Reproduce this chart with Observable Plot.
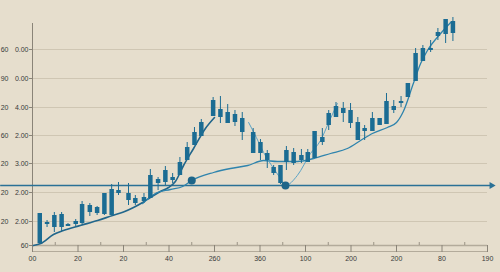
<!DOCTYPE html>
<html><head><meta charset="utf-8">
<script src="https://cdn.jsdelivr.net/npm/d3@7"></script>
<script src="https://cdn.jsdelivr.net/npm/@observablehq/plot@0.6"></script>
<style>
html,body{margin:0;padding:0;background:#e6decd;}
#chart svg{display:block;}
</style></head>
<body><div id="chart"></div>
<script>
// candle positions (x) and OHLC values
const candleX = [1.6,3.2,4.8,6.4,7.8,9.5,10.9,12.6,14.2,15.8,17.4,18.9,21.1,22.6,24.5,25.9,27.6,29.2,30.8,32.4,34.0,35.6,37.1,39.7,41.3,42.9,44.5,46.1,48.5,50.1,51.6,53.0,54.5,55.8,57.4,59.1,60.5,62.0,63.7,65.1,66.7,68.3,69.9,71.5,73.0,74.7,76.3,77.8,79.4,81.0,82.5,84.2,85.8,87.5,89.1,90.8,92.4];
const open  = [2,21,18,18,19,21,22,33,32,31,30,52,45,42,44,47,62,63,65,70,85,100,109,129,128,122,123,113,92,92,85,72,62,83,82,85,83,87,103,120,128,132,122,105,114,114,120,121,135,142,148,164,184,195,209,211,212];
const close = [32,23,30,31,21,24,41,40,38,52,56,55,52,47,48,70,66,75,68,83,98,113,123,145,136,133,131,127,113,103,92,78,80,95,93,90,93,114,108,132,139,137,135,123,117,127,127,144,139,144,162,192,197,197,213,226,224];
const low   = [2,18,13,14,19,19,21,29,30,30,30,50,40,40,42,47,55,60,62,70,85,100,109,129,122,122,119,105,92,85,77,70,61,75,80,82,83,87,100,115,128,123,117,105,105,114,120,121,132,138,148,164,184,193,205,202,204];
const high  = [32,25,33,33,22,26,44,42,39,52,61,63,62,50,52,76,68,79,72,88,103,118,126,148,149,141,135,133,117,106,95,80,80,99,97,96,96,114,117,135,143,143,142,128,120,133,127,152,145,149,162,197,200,205,217,226,228];

// lines
const lineAX = [0.2,1.8,4.6,6.8,10.5,14.3,17.6,20.0,22.2,24.2,25.9,28.1,29.9,31.4,33.2,35.4,38.0,40.0];
const lineAY = [0,2,11,15,20,25,30,33.5,38,43,48,54,58,64,80,97,117,128];
const lineCX = [24.2,27.0,30.3,33.0,35.0,39.8,43.5,47.3,50.8,53.8,58.2,61.8,65.5,69.2,72.1,74.7,78.0,80.0,81.5,83.7,85.3,86.8,89.7,91.9];
const lineCY = [42,52,56,59,65,73,77,80,85,84,84,87,92,97,105,112,118,123,134,162,182,195,212,223];
const lineBX = [47.5,49.2,50.8,53.0,54.5,55.6,58.2,61.1,63.3,65.1,67.0];
const lineBY = [123,108,93,77,67,60,70,92,105,123,142];

const markerX = [35.0,55.6];
const markerY = [65,60];

const baselineValue = 60;
const baselineStart = -7.0;
const baselineEnd = 100.9;

// axes
const xTicks = [0,10,20,30,40,50,60,70,80,90,100];
const xLabels = ["00","20","20","40","260","360","100","200","200","80","190"];
const xMinor = [5,15,25,35,45,55,65,75,85,95];
const yTicks = [0,24,53,82,110,138,167,196];
const yLabels = ["60","2.00","2.00","3.00","2.00","4.00","0.00","0.00"];
const yTicks2 = [24,53,82,110,138,167,196];
const yLabels2 = ["20","20","20","60","20","90","60"];

const candles = candleX.map((x,i)=>({x, open:open[i], close:close[i], low:low[i], high:high[i]}));
const A = lineAX.map((x,i)=>({x,y:lineAY[i]}));
const B = lineBX.map((x,i)=>({x,y:lineBY[i]}));
const C = lineCX.map((x,i)=>({x,y:lineCY[i]}));
const M = markerX.map((x,i)=>({x,y:markerY[i]}));
const yMap = new Map(yTicks.map((t,i)=>[t,yLabels[i]]));
const yMap2 = new Map(yTicks2.map((t,i)=>[t,yLabels2[i]]));
const xMap = new Map(xTicks.map((t,i)=>[t,xLabels[i]]));

const blue = "#1b6c93";
const chart = Plot.plot({
  width: 500, height: 272,
  marginLeft: 32, marginRight: 13, marginTop: 23, marginBottom: 27,
  style: {background: "#e6decd", fontFamily: "Liberation Sans, Arial, sans-serif", color: "#3a3a3a"},
  x: {domain: [0,100], label: null},
  y: {domain: [0,222], label: null},
  marks: [
    Plot.ruleY(yTicks.slice(1), {x1: 0, x2: 100, stroke: "#cfc6b3", strokeWidth: 1}),
    Plot.ruleY([0], {x1: 0, x2: 100, stroke: "#b3ab9b", strokeWidth: 1.5}),
    Plot.ruleY([-6], {x1: 0, x2: 100, stroke: "#b3ab9b", strokeWidth: 1}),
    Plot.ruleX(xMinor, {x: d=>d, y1: 0, y2: 3, stroke: "#9a9385"}),
    Plot.ruleX([0], {stroke: "#8a8478", strokeWidth: 1}),
    Plot.axisX({ticks: xTicks, tickFormat: d=>xMap.get(d), tickSize: 7, tickPadding: 4, fontSize: 7, stroke: "#8a8478", label: null}),
    Plot.axisY({ticks: yTicks, tickFormat: d=>yMap.get(d), tickSize: 3, tickPadding: 1, fontSize: 7, stroke: "#8a8478", label: null}),
    Plot.text(yTicks2, {y: d=>d, text: d=>yMap2.get(d), frameAnchor: "left", textAnchor: "end", dx: -24, fontSize: 7, fill: "#3a3a3a"}),
    Plot.ruleY([baselineValue], {x1: baselineStart, x2: baselineEnd, stroke: "#2a7196", strokeWidth: 1.3}),
    Plot.dot([baselineEnd], {x: d=>d, y: baselineValue, symbol: "triangle", rotate: 90, r: 2.6, fill: "#2a7196", stroke: "none"}),
    Plot.line(A, {x: "x", y: "y", stroke: "#21668b", strokeWidth: 1.6, curve: "monotone-x"}),
    Plot.line(C, {x: "x", y: "y", stroke: "#2f84ad", strokeWidth: 1.3, curve: "monotone-x"}),
    Plot.line(B, {x: "x", y: "y", stroke: "#5ba3c6", strokeWidth: 1, curve: "monotone-x"}),
    Plot.ruleX(candles, {x: "x", y1: "low", y2: "high", stroke: blue, strokeWidth: 1}),
    Plot.ruleX(candles, {x: "x", y1: "open", y2: "close", stroke: blue, strokeWidth: 4.5}),
    Plot.dot(M, {x: "x", y: "y", r: 4, fill: "#1d6589", stroke: "none"})
  ]
});
document.getElementById("chart").append(chart);
</script>
</body></html>
